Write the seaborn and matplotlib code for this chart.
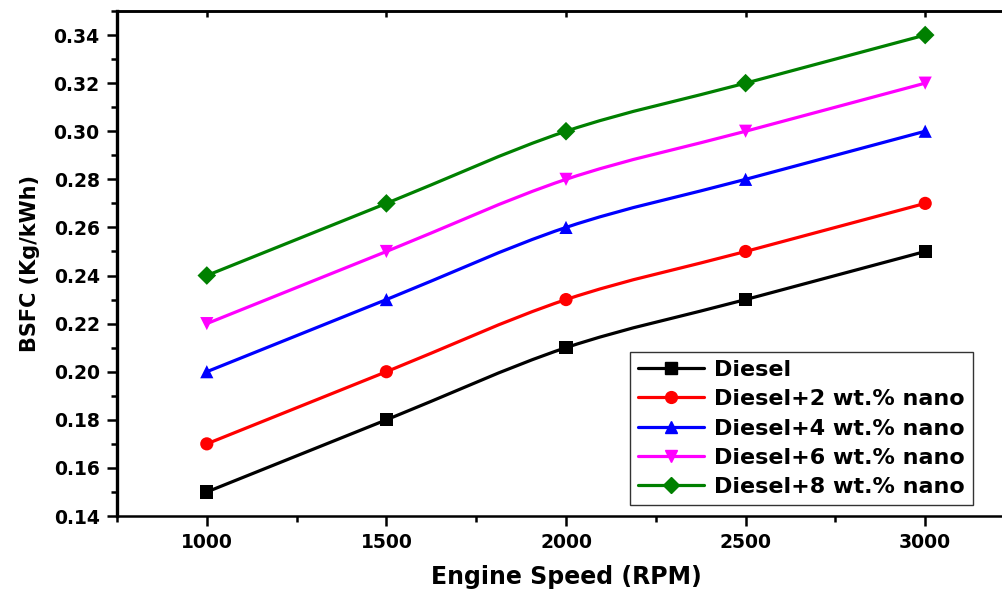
import numpy as np
import pandas as pd
import matplotlib
matplotlib.use("Agg")
import matplotlib.pyplot as plt
from matplotlib.path import Path
from matplotlib.patches import PathPatch
from matplotlib.lines import Line2D
from matplotlib.ticker import MultipleLocator, FormatStrFormatter
import seaborn as sns

speed = [1000, 1500, 2000, 2500, 3000]
diesel = [0.15, 0.18, 0.21, 0.23, 0.25]
nano2 = [0.17, 0.20, 0.23, 0.25, 0.27]
nano4 = [0.20, 0.23, 0.26, 0.28, 0.30]
nano6 = [0.22, 0.25, 0.28, 0.30, 0.32]
nano8 = [0.24, 0.27, 0.30, 0.32, 0.34]

names = ["Diesel", "Diesel+2 wt.% nano", "Diesel+4 wt.% nano",
         "Diesel+6 wt.% nano", "Diesel+8 wt.% nano"]
colors = ["#000000", "#FF0000", "#0000FF", "#FF00FF", "#008000"]
markers = ["s", "o", "^", "v", "D"]

df = pd.concat([pd.DataFrame({"speed": speed, "bsfc": v, "fuel": n})
                for n, v in zip(names, [diesel, nano2, nano4, nano6, nano8])])

sns.set_style("ticks", rc={"axes.edgecolor": "black", "text.color": "black",
                           "axes.labelcolor": "black", "xtick.color": "black",
                           "ytick.color": "black"})
plt.rcParams['font.family'] = ['DejaVu Sans']
plt.rcParams['font.weight'] = 'bold'

fig = plt.figure(figsize=(10.02, 5.92), dpi=100)
ax = fig.add_axes([117 / 1002, 1 - 516 / 592, 898 / 1002, 505 / 592])


def smooth_path(xs, ys):
    # catmull-rom curve through the points, written as bezier segments
    pts = np.column_stack([xs, ys]).astype(float)
    p = np.vstack([pts[0], pts, pts[-1]])
    verts = [tuple(pts[0])]
    codes = [Path.MOVETO]
    for i in range(1, len(p) - 2):
        c1 = p[i] + (p[i + 1] - p[i - 1]) / 6
        c2 = p[i + 1] - (p[i + 2] - p[i]) / 6
        verts += [tuple(c1), tuple(c2), tuple(p[i + 1])]
        codes += [Path.CURVE4] * 3
    return Path(verts, codes)


handles = []
for n, c, m in zip(names, colors, markers):
    sub = df[df["fuel"] == n]
    ax.add_patch(PathPatch(smooth_path(sub["speed"], sub["bsfc"]), fill=False,
                           edgecolor=c, lw=2.3, zorder=2))
    handles.append(Line2D([], [], color=c, lw=2.3, marker=m, markersize=8.5,
                          markeredgecolor=c))

sns.scatterplot(data=df, x="speed", y="bsfc", hue="fuel", style="fuel",
                palette=colors, markers=markers, s=90, edgecolor="none",
                legend=False, ax=ax, zorder=3)

ax.set_xlim(750, 3250)
ax.set_ylim(0.14, 0.35)
ax.xaxis.set_major_locator(MultipleLocator(500))
ax.xaxis.set_minor_locator(MultipleLocator(250))
ax.yaxis.set_major_locator(MultipleLocator(0.02))
ax.yaxis.set_minor_locator(MultipleLocator(0.01))
ax.yaxis.set_major_formatter(FormatStrFormatter("%.2f"))

ax.spines["left"].set_linewidth(2.4)
for s in ["bottom", "top", "right"]:
    ax.spines[s].set_linewidth(1.8)

ax.tick_params(axis="both", which="major", direction="out", length=7, width=1.8,
               labelsize=13.5, pad=5.5)
ax.tick_params(axis="both", which="minor", direction="out", length=4, width=1.8)
ax.tick_params(axis="x", which="both", top=False)

# inward ticks on the top edge
top = ax.secondary_xaxis("top")
top.xaxis.set_major_locator(MultipleLocator(500))
top.tick_params(direction="in", length=4, width=1.8, labeltop=False)
top.spines["top"].set_linewidth(1.8)

ax.set_xlabel("Engine Speed (RPM)", fontsize=17, fontweight="bold", labelpad=9)
ax.set_ylabel("BSFC (Kg/kWh)", fontsize=15, fontweight="bold", labelpad=10)

leg = ax.legend(handles, names, loc="lower right",
                bbox_to_anchor=(973 / 1002, 1 - 505 / 592),
                bbox_transform=fig.transFigure, frameon=True, fancybox=False,
                edgecolor="black", handlelength=3.0,
                borderpad=0.35, labelspacing=0.42, handletextpad=0.45,
                borderaxespad=0, prop={"weight": "bold", "size": 16})
leg.get_frame().set_linewidth(1.0)

fig.savefig("out.png", dpi=100)
